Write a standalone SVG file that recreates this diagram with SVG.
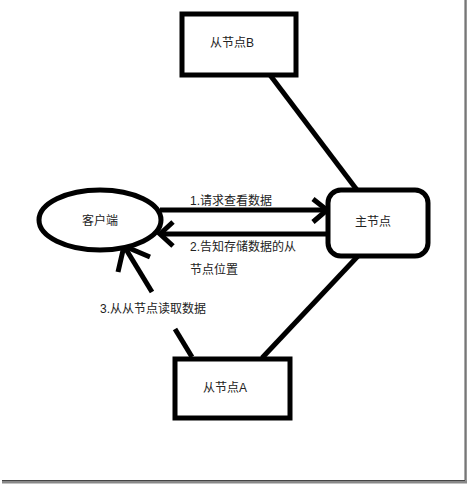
<svg xmlns="http://www.w3.org/2000/svg" width="470" height="484" viewBox="0 0 470 484">
<style>
.s{fill:none;stroke:#000;stroke-width:5;stroke-linecap:butt}
.b{fill:#fff;stroke:#000;stroke-width:5}
.t{font-family:"Liberation Sans","Noto Sans CJK SC",sans-serif;font-size:12px;fill:#222}
</style>
<rect width="470" height="484" fill="#fff"/>
<g id="frame">
<line x1="466" y1="0" x2="466" y2="482" stroke="#999" stroke-width="2"/>
<line x1="2" y1="482" x2="467" y2="482" stroke="#888" stroke-width="3"/>
<line x1="465" y1="0" x2="465" y2="480" stroke="#555" stroke-width="1"/>
<line x1="2" y1="480.5" x2="465" y2="480.5" stroke="#444" stroke-width="1"/>
</g>
<g id="connectors">
<line class="s" x1="270" y1="75" x2="357" y2="190"/>
<line class="s" x1="358" y1="256" x2="262" y2="358"/>
<line class="s" x1="160" y1="210" x2="327" y2="210"/>
<polyline class="s" points="313,199 327,210 313,222"/>
<line class="s" x1="328" y1="234" x2="161" y2="234"/>
<polyline class="s" points="173,222 160,234 173,246"/>
<line class="s" x1="192" y1="357" x2="175" y2="329"/>
<line class="s" x1="152" y1="292" x2="124" y2="246"/>
<polyline class="s" points="118,272 124,246 150,257"/>
</g>
<g id="nodeB">
<rect class="b" x="182" y="14" width="114" height="61"/>
<text class="t" x="210" y="47">从节点B</text>
</g>
<g id="master">
<rect class="b" x="328" y="190" width="100" height="66" rx="13"/>
<text class="t" x="355" y="226">主节点</text>
</g>
<g id="client">
<ellipse class="b" cx="100" cy="220" rx="61" ry="30"/>
<text class="t" x="82" y="225">客户端</text>
</g>
<g id="nodeA">
<rect class="b" x="175" y="359" width="115" height="59"/>
<text class="t" x="203" y="392">从节点A</text>
</g>
<g id="labels">
<text class="t" x="190" y="205">1.请求查看数据</text>
<text class="t" x="190" y="251">2.告知存储数据的从</text>
<text class="t" x="190" y="274">节点位置</text>
<text class="t" x="100" y="313">3.从从节点读取数据</text>
</g>
</svg>
